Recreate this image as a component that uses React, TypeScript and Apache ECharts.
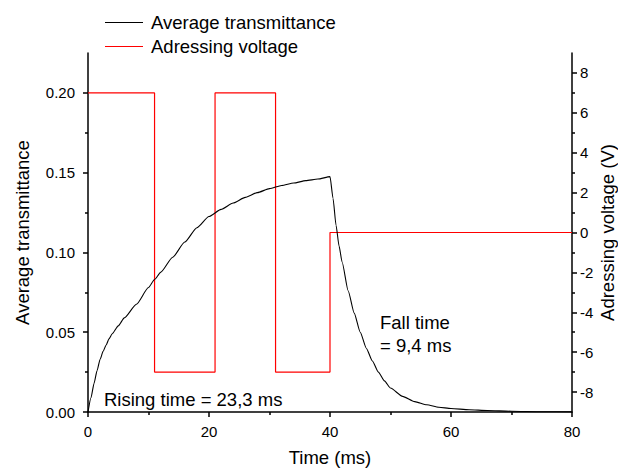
import React, { useEffect, useRef } from "react";
import * as echarts from "echarts";

const FONT = "Liberation Sans, Arial, sans-serif";

// Average transmittance (left axis)
const transTime = [
  0, 0.5, 1, 1.5, 2, 2.5, 3, 3.5, 4, 5, 6, 8, 10, 11, 12, 14, 16, 18, 20, 22, 24, 26, 28, 30, 32, 34, 36, 38, 40,
  40.5, 41, 41.5, 42, 43, 44, 45, 46, 47, 48, 49, 50, 52, 54, 56, 58, 60, 63, 66, 70, 75, 80,
];
const transValue = [
  0, 0.009, 0.018, 0.026, 0.033, 0.038, 0.042, 0.046, 0.049, 0.054, 0.059, 0.0675, 0.078, 0.083, 0.0875, 0.097,
  0.1065, 0.1155, 0.1225, 0.127, 0.131, 0.1345, 0.1375, 0.14, 0.142, 0.1435, 0.145, 0.146, 0.1475,
  0.134, 0.117, 0.104, 0.094, 0.076, 0.062, 0.05, 0.04, 0.032, 0.025, 0.0195, 0.015, 0.0098, 0.0065, 0.0045,
  0.003, 0.0022, 0.0014, 0.0009, 0.0005, 0.0002, 0.0001,
];

// Adressing voltage (right axis)
const voltTime = [0, 11, 11, 21, 21, 31, 31, 40, 40, 80];
const voltValue = [7, 7, -7, -7, 7, 7, -7, -7, 0, 0];

// Ticks
const xMajor = [0, 20, 40, 60, 80];
const xMinor = [10, 30, 50, 70];
const leftMajor = [0, 0.05, 0.1, 0.15, 0.2];
const leftMinor = [0.025, 0.075, 0.125, 0.175];
const rightMajor = [-8, -6, -4, -2, 0, 2, 4, 6, 8];
const rightMinor = [-7, -5, -3, -1, 1, 3, 5, 7];

export default function App() {
  const ref = useRef<HTMLDivElement>(null);
  useEffect(() => {
    if (!ref.current) return;
    const chart = echarts.init(ref.current, undefined, { renderer: "svg" });
    const axisLine = { show: true, onZero: false, lineStyle: { color: "#000", width: 1.5 } };
    const lbl = { color: "#000", fontSize: 15, fontFamily: FONT };
    const nameStyle = { color: "#000", fontSize: 18.5, fontFamily: FONT };
    const tickStyle = { color: "#000", width: 1.5 };
    chart.setOption({
      animation: false,
      textStyle: { fontFamily: FONT },
      grid: { left: 88, right: 46, top: 53, bottom: 56, containLabel: false, outerBoundsMode: "none" },
      legend: {
        orient: "vertical",
        left: 105,
        top: 13,
        padding: 0,
        icon: "rect",
        itemWidth: 38,
        itemHeight: 1.2,
        itemGap: 5,
        textStyle: { color: "#000", fontSize: 18.5, fontFamily: FONT, padding: [0, 0, 0, 3] },
        data: ["Average transmittance", "Adressing voltage"],
      },
      xAxis: [
        {
          type: "value",
          min: 0,
          max: 80,
          position: "bottom",
          name: "Time (ms)",
          nameLocation: "middle",
          nameGap: 36,
          nameMoveOverlap: false,
          nameTextStyle: nameStyle,
          axisLine,
          splitLine: { show: false },
          axisTick: { show: true, inside: false, length: 5, customValues: xMajor, lineStyle: tickStyle },
          axisLabel: { ...lbl, margin: 12, customValues: xMajor },
        },
        {
          type: "value",
          min: 0,
          max: 80,
          position: "bottom",
          axisLine: { show: false, onZero: false },
          splitLine: { show: false },
          axisTick: { show: true, inside: false, length: 3, customValues: xMinor, lineStyle: tickStyle },
          axisLabel: { show: false },
        },
      ],
      yAxis: [
        {
          type: "value",
          min: 0,
          max: 0.225,
          position: "left",
          name: "Average transmittance",
          nameLocation: "middle",
          nameRotate: 90,
          nameGap: 56,
          nameMoveOverlap: false,
          nameTextStyle: nameStyle,
          axisLine,
          splitLine: { show: false },
          axisTick: { show: true, inside: false, length: 5, customValues: leftMajor, lineStyle: tickStyle },
          axisLabel: { ...lbl, margin: 13, customValues: leftMajor, formatter: (v: number) => v.toFixed(2) },
        },
        {
          type: "value",
          min: -9,
          max: 9,
          position: "right",
          name: "Adressing voltage (V)",
          nameLocation: "middle",
          nameRotate: 90,
          nameGap: 26,
          nameMoveOverlap: false,
          nameTextStyle: nameStyle,
          axisLine,
          splitLine: { show: false },
          axisTick: { show: true, inside: false, length: 5, customValues: rightMajor, lineStyle: tickStyle },
          axisLabel: { ...lbl, margin: 8, customValues: rightMajor },
        },
        {
          type: "value",
          min: 0,
          max: 0.225,
          position: "left",
          axisLine: { show: false, onZero: false },
          splitLine: { show: false },
          axisTick: { show: true, inside: false, length: 3, customValues: leftMinor, lineStyle: tickStyle },
          axisLabel: { show: false },
        },
        {
          type: "value",
          min: -9,
          max: 9,
          position: "right",
          axisLine: { show: false, onZero: false },
          splitLine: { show: false },
          axisTick: { show: true, inside: false, length: 3, customValues: rightMinor, lineStyle: tickStyle },
          axisLabel: { show: false },
        },
      ],
      series: [
        {
          name: "Average transmittance",
          type: "line",
          xAxisIndex: 0,
          yAxisIndex: 0,
          symbol: "none",
          smooth: 0.2,
          smoothMonotone: "x",
          lineStyle: { color: "#000", width: 1.1 },
          itemStyle: { color: "#000" },
          data: transTime.map((t, i) => [t, transValue[i]]),
          z: 3,
        },
        {
          name: "Adressing voltage",
          type: "line",
          xAxisIndex: 0,
          yAxisIndex: 1,
          symbol: "none",
          lineStyle: { color: "#ff0000", width: 1.2 },
          itemStyle: { color: "#ff0000" },
          data: voltTime.map((t, i) => [t, voltValue[i]]),
          z: 2,
        },
      ],
      graphic: [
        {
          type: "text",
          x: 104,
          y: 399,
          style: { text: "Rising time = 23,3 ms", fill: "#000", font: `18.5px ${FONT}`, verticalAlign: "middle" },
        },
        {
          type: "text",
          x: 380,
          y: 322,
          style: { text: "Fall time", fill: "#000", font: `18.5px ${FONT}`, verticalAlign: "middle" },
        },
        {
          type: "text",
          x: 380,
          y: 345,
          style: { text: "= 9,4 ms", fill: "#000", font: `18.5px ${FONT}`, verticalAlign: "middle" },
        },
      ],
    });
    return () => chart.dispose();
  }, []);
  return (
    <div
      ref={ref}
      style={{ position: "absolute", left: 0, top: 0, width: 618, height: 468 }}
    />
  );
}
